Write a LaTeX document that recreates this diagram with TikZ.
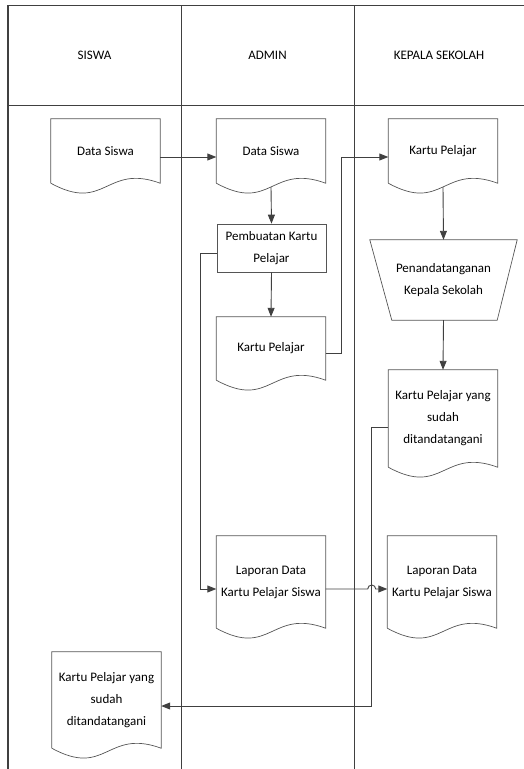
\documentclass[tikz,border=0pt]{standalone}
\usepackage{fontspec}
\setmainfont{Carlito}
\usetikzlibrary{arrows.meta,calc}
\definecolor{ink}{HTML}{404040}
\definecolor{edge}{HTML}{555555}
\tikzset{
  lane/.style={draw=ink, line width=0.9pt},
  docnode/.style={inner sep=0pt, minimum width=109pt, align=center, font=\fontsize{13}{22}\selectfont, text=black},
  shapeline/.style={draw=edge, line width=0.7pt},
  procbox/.style={draw=edge, line width=0.7pt, inner sep=0pt, minimum width=109pt, minimum height=48pt, align=center, font=\fontsize{13}{22}\selectfont},
  arr/.style={draw=ink, line width=0.9pt, -{Triangle[length=9pt,width=7pt]}},
  hdr/.style={font=\fontsize{13}{16}\selectfont, text=black}
}
\newcommand\docoutline[1]{\draw[shapeline] (#1.south west) -- (#1.north west) -- (#1.north east) -- (#1.south east) .. controls ($(#1.south)+(0,-20)$) and ($(#1.south)+(0,30)$) .. (#1.south west);}
\begin{document}
\begin{tikzpicture}[x=1pt,y=-1pt]
\useasboundingbox (0,0) rectangle (524,769);
% swimlanes
\draw[lane] (8,5) -- (524,5);
\draw[lane] (8,105) -- (524,105);
\draw[lane, line width=1.6pt] (8,5) -- (8,769);
\draw[lane] (181,5) -- (181,769);
\draw[lane] (354,5) -- (354,769);
\node[hdr] (h1) at (94.5,55) {SISWA};
\node[hdr] (h2) at (267.5,55) {ADMIN};
\node[hdr] (h3) at (439,55) {KEPALA SEKOLAH};
% documents
\node[docnode, minimum height=64pt] (ds1) at (105.5,151) {Data Siswa};
\node[docnode, minimum height=64pt] (ds2) at (271,151) {Data Siswa};
\node[docnode, minimum height=64pt] (kp3) at (443,151) {Kartu Pelajar};
\node[procbox] (pk) at (271.5,248) {Pembuatan Kartu\\Pelajar};
\node[docnode, minimum height=63pt] (kp2) at (271,348.5) {Kartu Pelajar};
\node[docnode, minimum width=147pt, minimum height=80pt] (ttd) at (443.5,280) {Penandatanganan\\Kepala Sekolah};
\node[docnode, minimum height=97pt] (kps) at (443,418.5) {Kartu Pelajar yang\\sudah\\ditandatangani};
\node[docnode, minimum height=92pt] (lap2) at (271,582) {Laporan Data\\Kartu Pelajar Siswa};
\node[docnode, minimum height=92pt] (lap3) at (442,582) {Laporan Data\\Kartu Pelajar Siswa};
\node[docnode, minimum height=96pt] (kps1) at (106.5,700) {Kartu Pelajar yang\\sudah\\ditandatangani};
\docoutline{ds1}
\docoutline{ds2}
\docoutline{kp3}
\docoutline{kp2}
\docoutline{kps}
\docoutline{lap2}
\docoutline{lap3}
\docoutline{kps1}
\draw[shapeline] (ttd.north west) -- (ttd.north east) -- ($(ttd.south east)+(-20,0)$) -- ($(ttd.south west)+(22,0)$) -- cycle;
% connectors
\draw[arr] ([yshift=-6pt]ds1.east) -- ([yshift=-6pt]ds2.west);
\draw[arr] ([yshift=-4pt]ds2.south) -- (pk.north);
\draw[arr] (pk.south) -- (kp2.north);
\draw[arr] ([yshift=-4.5pt]kp2.east) -- ++(16,0) |- ([yshift=-6pt]kp3.west);
\draw[arr] ([yshift=-4pt]kp3.south) -- (ttd.north);
\draw[arr] (ttd.south) -- (kps.north);
\draw[arr] ([yshift=-5pt]pk.west) -- ++(-16,0) |- ([yshift=-7pt]lap2.west);
\draw[arr] ([yshift=-8.5pt]kps.west) -- ++(-17,0) |- ([yshift=-6pt]kps1.east);
\coordinate (hop) at ($([yshift=-7pt]lap2.east)+(42,0)$);
\draw[arr] ([yshift=-7pt]lap2.east) -- (hop) arc (180:360:4) -- ([yshift=-7pt]lap3.west);
\end{tikzpicture}
\end{document}
